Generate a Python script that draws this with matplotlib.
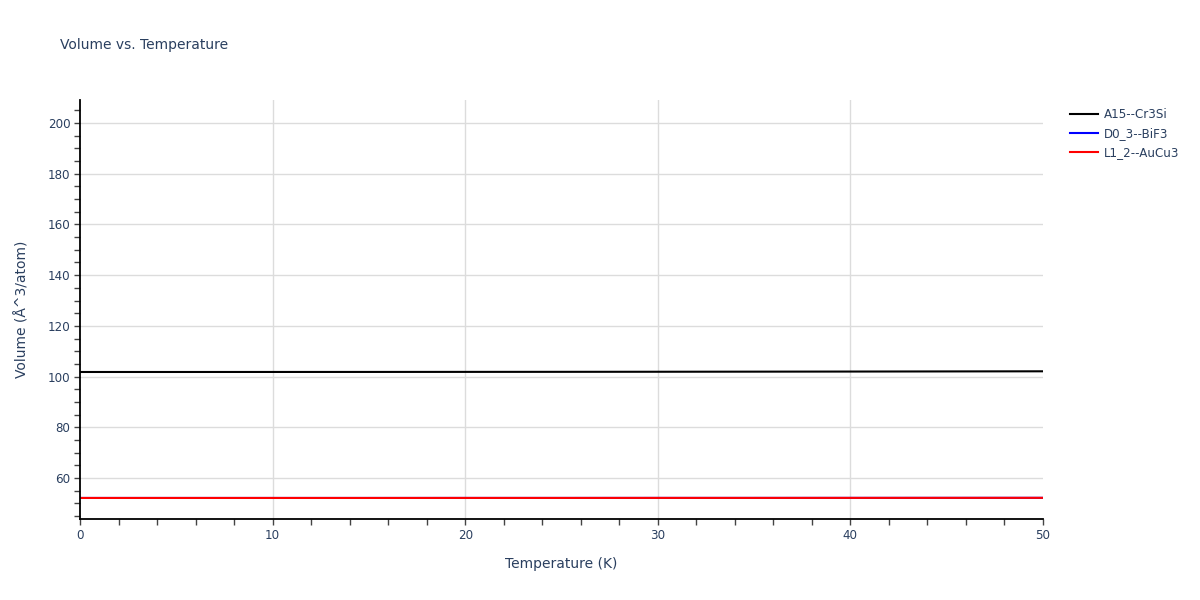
import matplotlib
matplotlib.use("Agg")
import matplotlib.pyplot as plt
from matplotlib.ticker import MultipleLocator

TEXT = "#2a3f5f"
GRID = "#dcdcdc"

temperature = [0, 5, 10, 15, 20, 25, 30, 35, 40, 45, 50]
vol_a15 = [101.80, 101.80, 101.81, 101.82, 101.84, 101.86, 101.89, 101.93, 101.97, 102.02, 102.07]
vol_d03 = [52.10, 52.10, 52.10, 52.10, 52.11, 52.11, 52.12, 52.12, 52.13, 52.14, 52.15]
vol_l12 = [52.10, 52.10, 52.10, 52.10, 52.11, 52.11, 52.12, 52.12, 52.13, 52.14, 52.15]

series = [
    ("A15--Cr3Si", vol_a15, "black"),
    ("D0_3--BiF3", vol_d03, "blue"),
    ("L1_2--AuCu3", vol_l12, "red"),
]

plt.rcParams.update({
    "font.family": ["DejaVu Sans"],
    "font.size": 8.6,
    "text.color": TEXT,
    "axes.labelcolor": TEXT,
    "xtick.color": "#444444",
    "ytick.color": "#444444",
    "xtick.labelcolor": TEXT,
    "ytick.labelcolor": TEXT,
})

fig = plt.figure(figsize=(12, 6), dpi=100)
ax = fig.add_axes([80 / 1200, 81 / 600, 963 / 1200, 419 / 600])

for name, vals, color in series:
    ax.plot(temperature, vals, color=color, linewidth=1.5, label=name)

ax.set_xlim(0, 50)
ax.set_ylim(43.8, 209.1)
ax.xaxis.set_major_locator(MultipleLocator(10))
ax.xaxis.set_minor_locator(MultipleLocator(2))
ax.yaxis.set_minor_locator(MultipleLocator(5))
ax.set_yticks(range(60, 201, 20))

# plotly-style grid: interior majors only
for xv in (10, 20, 30, 40):
    ax.axvline(xv, color=GRID, linewidth=1, zorder=0)
for yv in range(60, 201, 20):
    ax.axhline(yv, color=GRID, linewidth=1, zorder=0)

for side in ("top", "right"):
    ax.spines[side].set_visible(False)
for side in ("left", "bottom"):
    ax.spines[side].set_color("black")
    ax.spines[side].set_linewidth(1.3)
ax.tick_params(which="both", direction="out", length=4, width=1, pad=3)

ax.set_xlabel("Temperature (K)", fontsize=10, labelpad=11)
ax.set_ylabel("Volume (Å^3/atom)", fontsize=10, labelpad=13)
fig.text(60 / 1200, 1 - 45 / 600, "Volume vs. Temperature", fontsize=10,
         va="center", ha="left", color=TEXT)

ax.legend(loc="upper left", bbox_to_anchor=(1.019, 1.0), frameon=False,
          handlelength=2.4, handletextpad=0.5, labelspacing=0.5,
          borderaxespad=0.3, fontsize=8.6)

fig.savefig("out.png", dpi=100, facecolor="white")
